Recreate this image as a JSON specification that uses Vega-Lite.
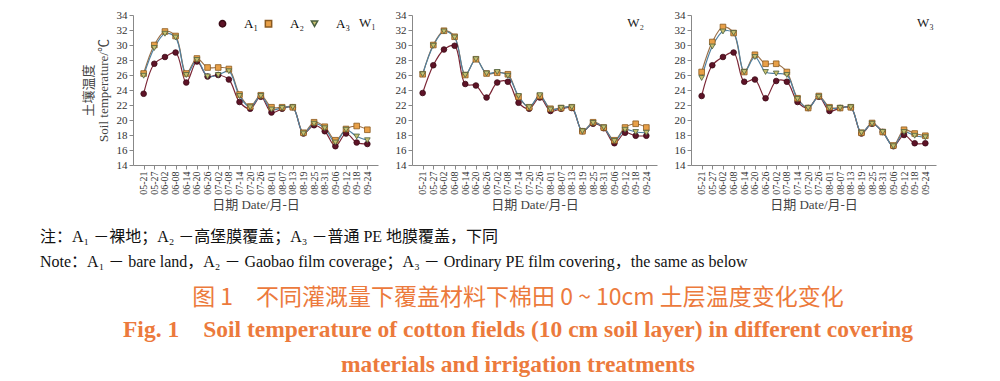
{
  "$schema": "https://vega.github.io/schema/vega-lite/v6.json",
  "padding": {"left": 40, "top": 9, "right": 5, "bottom": 0},
  "background": "white",
  "datasets": {
    "w1": [
      {"date":"05-21","A₁":23.5,"A₂":26.2,"A₃":25.9},
      {"date":"05-27","A₁":27.5,"A₂":30.0,"A₃":29.6},
      {"date":"06-02","A₁":28.4,"A₂":31.8,"A₃":31.5},
      {"date":"06-08","A₁":29.0,"A₂":31.2,"A₃":31.0},
      {"date":"06-14","A₁":25.0,"A₂":26.2,"A₃":26.0},
      {"date":"06-20","A₁":27.8,"A₂":28.2,"A₃":28.0},
      {"date":"06-26","A₁":25.8,"A₂":27.0,"A₃":25.8},
      {"date":"07-02","A₁":26.0,"A₂":27.0,"A₃":26.0},
      {"date":"07-08","A₁":25.4,"A₂":26.8,"A₃":26.5},
      {"date":"07-14","A₁":22.4,"A₂":23.4,"A₃":23.2},
      {"date":"07-20","A₁":21.5,"A₂":21.8,"A₃":21.7},
      {"date":"07-26","A₁":23.1,"A₂":23.3,"A₃":23.2},
      {"date":"08-01","A₁":21.0,"A₂":21.7,"A₃":21.4},
      {"date":"08-07","A₁":21.5,"A₂":21.7,"A₃":21.6},
      {"date":"08-13","A₁":21.7,"A₂":21.7,"A₃":21.7},
      {"date":"08-19","A₁":18.2,"A₂":18.3,"A₃":18.2},
      {"date":"08-25","A₁":19.3,"A₂":19.7,"A₃":19.5},
      {"date":"08-31","A₁":18.5,"A₂":19.1,"A₃":18.9},
      {"date":"09-06","A₁":16.5,"A₂":17.3,"A₃":17.0},
      {"date":"09-12","A₁":18.2,"A₂":18.8,"A₃":18.7},
      {"date":"09-18","A₁":17.0,"A₂":19.2,"A₃":17.8},
      {"date":"09-24","A₁":16.8,"A₂":18.7,"A₃":17.3}
    ],
    "w2": [
      {"date":"05-21","A₁":23.6,"A₂":26.1,"A₃":26.1},
      {"date":"05-27","A₁":27.3,"A₂":30.0,"A₃":29.9},
      {"date":"06-02","A₁":29.4,"A₂":31.9,"A₃":31.8},
      {"date":"06-08","A₁":29.9,"A₂":31.1,"A₃":31.0},
      {"date":"06-14","A₁":24.8,"A₂":26.0,"A₃":26.0},
      {"date":"06-20","A₁":24.6,"A₂":28.1,"A₃":28.1},
      {"date":"06-26","A₁":23.0,"A₂":26.2,"A₃":26.2},
      {"date":"07-02","A₁":25.0,"A₂":26.3,"A₃":26.4},
      {"date":"07-08","A₁":25.1,"A₂":26.1,"A₃":25.9},
      {"date":"07-14","A₁":22.3,"A₂":23.1,"A₃":23.2},
      {"date":"07-20","A₁":21.5,"A₂":21.7,"A₃":21.7},
      {"date":"07-26","A₁":23.0,"A₂":23.2,"A₃":23.3},
      {"date":"08-01","A₁":21.2,"A₂":21.5,"A₃":21.4},
      {"date":"08-07","A₁":21.5,"A₂":21.6,"A₃":21.6},
      {"date":"08-13","A₁":21.6,"A₂":21.7,"A₃":21.7},
      {"date":"08-19","A₁":18.5,"A₂":18.5,"A₃":18.5},
      {"date":"08-25","A₁":19.5,"A₂":19.7,"A₃":19.6},
      {"date":"08-31","A₁":18.9,"A₂":19.0,"A₃":19.0},
      {"date":"09-06","A₁":16.9,"A₂":17.3,"A₃":17.2},
      {"date":"09-12","A₁":18.3,"A₂":19.0,"A₃":18.7},
      {"date":"09-18","A₁":17.9,"A₂":19.5,"A₃":18.4},
      {"date":"09-24","A₁":17.9,"A₂":19.0,"A₃":18.3}
    ],
    "w3": [
      {"date":"05-21","A₁":23.2,"A₂":26.4,"A₃":25.6},
      {"date":"05-27","A₁":27.3,"A₂":30.4,"A₃":29.8},
      {"date":"06-02","A₁":28.4,"A₂":32.4,"A₃":31.8},
      {"date":"06-08","A₁":29.0,"A₂":31.6,"A₃":31.6},
      {"date":"06-14","A₁":25.1,"A₂":26.4,"A₃":26.4},
      {"date":"06-20","A₁":25.4,"A₂":28.7,"A₃":28.4},
      {"date":"06-26","A₁":22.9,"A₂":27.5,"A₃":26.4},
      {"date":"07-02","A₁":25.2,"A₂":27.5,"A₃":26.2},
      {"date":"07-08","A₁":25.1,"A₂":26.4,"A₃":26.0},
      {"date":"07-14","A₁":22.4,"A₂":22.9,"A₃":22.8},
      {"date":"07-20","A₁":21.6,"A₂":21.6,"A₃":21.6},
      {"date":"07-26","A₁":23.1,"A₂":23.2,"A₃":23.1},
      {"date":"08-01","A₁":21.2,"A₂":21.7,"A₃":21.6},
      {"date":"08-07","A₁":21.6,"A₂":21.6,"A₃":21.6},
      {"date":"08-13","A₁":21.7,"A₂":21.7,"A₃":21.7},
      {"date":"08-19","A₁":18.2,"A₂":18.3,"A₃":18.3},
      {"date":"08-25","A₁":19.5,"A₂":19.6,"A₃":19.5},
      {"date":"08-31","A₁":18.4,"A₂":18.4,"A₃":18.4},
      {"date":"09-06","A₁":16.5,"A₂":16.6,"A₃":16.5},
      {"date":"09-12","A₁":18.0,"A₂":18.7,"A₃":18.4},
      {"date":"09-18","A₁":16.9,"A₂":18.2,"A₃":17.9},
      {"date":"09-24","A₁":16.9,"A₂":17.9,"A₃":17.7}
    ]
  },
  "config": {
    "view": {"stroke": null},
    "axis": {"grid": false, "labelFont": "Liberation Serif", "labelColor": "#333", "labelFontSize": 11, "titleFont": "Liberation Serif, Noto Sans CJK SC", "titleFontWeight": "normal", "titleColor": "#444", "domainColor": "#888", "tickColor": "#888", "tickSize": 4}
  },
  "title": {
    "text": "图 1　不同灌溉量下覆盖材料下棉田 0 ~ 10cm 土层温度变化变化",
    "orient": "bottom",
    "anchor": "middle",
    "dx": 30,
    "font": "Noto Sans CJK SC",
    "fontSize": 23,
    "fontWeight": "normal",
    "color": "#ec7a3c",
    "offset": 17,
    "subtitle": ["Fig. 1　Soil temperature of cotton fields (10 cm soil layer) in different covering", "materials and irrigation treatments"],
    "subtitleFont": "Liberation Serif",
    "subtitleFontSize": 23.5,
    "subtitleFontWeight": "bold",
    "subtitleColor": "#ec7a3c",
    "subtitleLineHeight": 35,
    "subtitlePadding": 8
  },
  "vconcat": [
    {
      "title": {
        "text": "注：A₁ －裸地；A₂ －高堡膜覆盖；A₃ －普通 PE 地膜覆盖，下同",
        "subtitle": "Note：A₁ － bare land，A₂ － Gaobao film coverage；A₃ － Ordinary PE film covering，the same as below",
        "orient": "bottom",
        "anchor": "start",
        "dx": -42,
        "offset": 18,
        "font": "Liberation Serif, Noto Sans CJK SC",
        "fontSize": 16,
        "fontWeight": "normal",
        "color": "#111",
        "subtitleFont": "Liberation Serif, Noto Sans CJK SC",
        "subtitleFontSize": 16,
        "subtitleColor": "#111",
        "subtitlePadding": 9
      },
      "spacing": 17,
      "resolve": {
        "scale": {"color": "independent", "fill": "independent", "stroke": "independent", "shape": "independent"},
        "legend": {"color": "independent", "fill": "independent", "stroke": "independent", "shape": "independent"}
      },
      "hconcat": [
        {
          "width": 245, "height": 150,
          "data": {"name": "w1"},
          "transform": [{"fold": ["A₁", "A₂", "A₃"], "as": ["series", "t"]}],
          "encoding": {
            "x": {"field": "date", "type": "ordinal", "scale": {"type": "point", "padding": 1}, "axis": {"labelAngle": -90, "labelFontSize": 10, "title": "日期  Date/月-日", "titleFontSize": 13, "titlePadding": 4}},
            "y": {"field": "t", "type": "quantitative", "scale": {"domain": [14, 34], "nice": false, "zero": false}, "axis": {"values": [14,16,18,20,22,24,26,28,30,32,34], "title": ["土壤温度", "Soil temperature/℃"], "titleFontSize": 13, "titlePadding": 6}}
          },
          "layer": [
            {"mark": {"type": "line", "interpolate": "catmull-rom", "strokeWidth": 1.2},
             "encoding": {"color": {"field": "series", "type": "nominal", "scale": {"range": ["#7b2535", "#9a7048", "#4f7f9f"]}, "legend": null}}},
            {"mark": {"type": "point", "filled": true, "size": 32, "strokeWidth": 0.8, "opacity": 1},
             "encoding": {
               "fill": {"field": "series", "type": "nominal", "scale": {"range": ["#5e1327", "#e8a048", "#c8c070"]}, "legend": {"orient": "none", "legendX": 83, "legendY": 2, "direction": "horizontal", "title": null, "labelFont": "Liberation Serif", "labelFontSize": 13, "symbolSize": 40, "labelOffset": 15, "columnPadding": 4}},
               "stroke": {"field": "series", "type": "nominal", "scale": {"range": ["#3a0a15", "#8a5a20", "#4a6040"]}, "legend": {"orient": "none", "legendX": 83, "legendY": 2, "direction": "horizontal", "title": null, "labelFont": "Liberation Serif", "labelFontSize": 13, "symbolSize": 40, "labelOffset": 15, "columnPadding": 4}},
               "shape": {"field": "series", "type": "nominal", "scale": {"range": ["circle", "square", "triangle-down"]}, "legend": {"orient": "none", "legendX": 83, "legendY": 2, "direction": "horizontal", "title": null, "labelFont": "Liberation Serif", "labelFontSize": 13, "symbolSize": 40, "labelOffset": 15, "columnPadding": 4}}
             }},
            {"transform": [{"filter": "datum.date === '09-24' && datum.series === 'A₁'"}],
             "mark": {"type": "text", "font": "Liberation Serif", "fontSize": 13, "color": "#222"},
             "encoding": {"x": {"datum": "09-24", "type": "ordinal"}, "y": {"datum": 33, "type": "quantitative"}, "text": {"value": "W₁"}}}
          ]
        },
        {
          "width": 245, "height": 150,
          "data": {"name": "w2"},
          "transform": [{"fold": ["A₁", "A₂", "A₃"], "as": ["series", "t"]}],
          "encoding": {
            "x": {"field": "date", "type": "ordinal", "scale": {"type": "point", "padding": 1}, "axis": {"labelAngle": -90, "labelFontSize": 10, "title": "日期  Date/月-日", "titleFontSize": 13, "titlePadding": 4}},
            "y": {"field": "t", "type": "quantitative", "scale": {"domain": [14, 34], "nice": false, "zero": false}, "axis": {"values": [14,16,18,20,22,24,26,28,30,32,34], "title": null}}
          },
          "layer": [
            {"mark": {"type": "line", "interpolate": "catmull-rom", "strokeWidth": 1.2},
             "encoding": {"color": {"field": "series", "type": "nominal", "scale": {"range": ["#7b2535", "#9a7048", "#4f7f9f"]}, "legend": null}}},
            {"mark": {"type": "point", "filled": true, "size": 32, "strokeWidth": 0.8, "opacity": 1},
             "encoding": {
               "fill": {"field": "series", "type": "nominal", "scale": {"range": ["#5e1327", "#e8a048", "#c8c070"]}, "legend": null},
               "stroke": {"field": "series", "type": "nominal", "scale": {"range": ["#3a0a15", "#8a5a20", "#4a6040"]}, "legend": null},
               "shape": {"field": "series", "type": "nominal", "scale": {"range": ["circle", "square", "triangle-down"]}, "legend": null}
             }},
            {"transform": [{"filter": "datum.date === '09-24' && datum.series === 'A₁'"}],
             "mark": {"type": "text", "font": "Liberation Serif", "fontSize": 13, "color": "#222"},
             "encoding": {"x": {"datum": "09-18", "type": "ordinal"}, "y": {"datum": 33, "type": "quantitative"}, "text": {"value": "W₂"}}}
          ]
        },
        {
          "width": 245, "height": 150,
          "data": {"name": "w3"},
          "transform": [{"fold": ["A₁", "A₂", "A₃"], "as": ["series", "t"]}],
          "encoding": {
            "x": {"field": "date", "type": "ordinal", "scale": {"type": "point", "padding": 1}, "axis": {"labelAngle": -90, "labelFontSize": 10, "title": "日期  Date/月-日", "titleFontSize": 13, "titlePadding": 4}},
            "y": {"field": "t", "type": "quantitative", "scale": {"domain": [14, 34], "nice": false, "zero": false}, "axis": {"values": [14,16,18,20,22,24,26,28,30,32,34], "title": null}}
          },
          "layer": [
            {"mark": {"type": "line", "interpolate": "catmull-rom", "strokeWidth": 1.2},
             "encoding": {"color": {"field": "series", "type": "nominal", "scale": {"range": ["#7b2535", "#9a7048", "#4f7f9f"]}, "legend": null}}},
            {"mark": {"type": "point", "filled": true, "size": 32, "strokeWidth": 0.8, "opacity": 1},
             "encoding": {
               "fill": {"field": "series", "type": "nominal", "scale": {"range": ["#5e1327", "#e8a048", "#c8c070"]}, "legend": null},
               "stroke": {"field": "series", "type": "nominal", "scale": {"range": ["#3a0a15", "#8a5a20", "#4a6040"]}, "legend": null},
               "shape": {"field": "series", "type": "nominal", "scale": {"range": ["circle", "square", "triangle-down"]}, "legend": null}
             }},
            {"transform": [{"filter": "datum.date === '09-24' && datum.series === 'A₁'"}],
             "mark": {"type": "text", "font": "Liberation Serif", "fontSize": 13, "color": "#222"},
             "encoding": {"x": {"datum": "09-24", "type": "ordinal"}, "y": {"datum": 33, "type": "quantitative"}, "text": {"value": "W₃"}}}
          ]
        }
      ]
    }
  ]
}
